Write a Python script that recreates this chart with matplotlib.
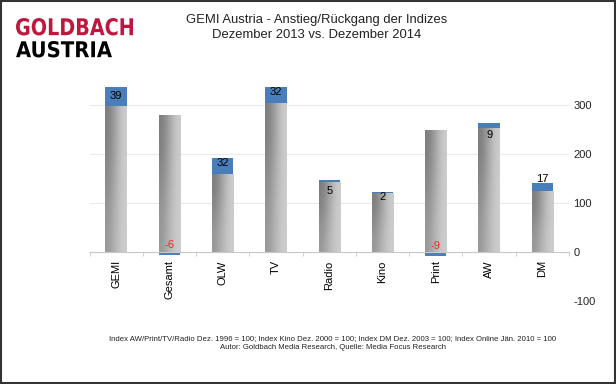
import numpy as np
import matplotlib
matplotlib.use("Agg")
import matplotlib.pyplot as plt
from matplotlib.patches import Rectangle, PathPatch
from matplotlib.colors import LinearSegmentedColormap
from matplotlib.textpath import TextPath
from matplotlib.font_manager import FontProperties
from matplotlib.transforms import Affine2D, IdentityTransform

plt.rcParams['font.family'] = ['Liberation Sans', 'DejaVu Sans']
plt.rcParams['axes.unicode_minus'] = False

# index Dez. 2013 (grey) and change to Dez. 2014 (blue)
categories = ["GEMI", "Gesamt", "OLW", "TV", "Radio", "Kino", "Print", "AW", "DM"]
base_values = [297, 280, 160, 305, 142, 120, 249, 254, 124]
changes = [39, -6, 32, 32, 5, 2, -9, 9, 17]
y_ticks = [-100, 0, 100, 200, 300]

# label offsets in points relative to the bar end
label_offsets = [-6.5, 5, -3.5, -3.8, -8, -3.6, 4.5, -8.6, 3]

W, H = 616, 384
fig = plt.figure(figsize=(W / 100, H / 100), dpi=100)
fig.patch.set_facecolor('white')
ax = fig.add_axes([0.1453, 0.2161, 0.7784, 0.5615])

x = np.arange(len(categories))
width = 0.4

grey_cmap = LinearSegmentedColormap.from_list("g", ["#7c7c7c", "#a6a6a6", "#cdcdcd"])
grad = np.array([[0.0, 0.5, 1.0], [0.35, 0.75, 1.0]])

bars = ax.bar(x, base_values, width, color='#9a9a9a', zorder=2)
for b in bars:
    x0, y0 = b.get_x(), b.get_y()
    im = ax.imshow(grad, extent=[x0, x0 + b.get_width(), y0, y0 + b.get_height()],
                   cmap=grey_cmap, aspect='auto', origin='upper', interpolation='bicubic', zorder=2.5)
    im.set_clip_path(b)

bottoms = [bv if c > 0 else 0 for bv, c in zip(base_values, changes)]
ax.bar(x, changes, width, bottom=bottoms, color='#4a7ebb', zorder=3)

for i, (bv, c) in enumerate(zip(base_values, changes)):
    top = bv + c if c > 0 else 0
    col = 'black' if c > 0 else '#ff2020'
    ax.annotate(str(c), (x[i], top), xytext=(0, label_offsets[i]), textcoords='offset points',
                ha='center', va='center', fontsize=8, color=col, zorder=5)

ax.set_xlim(-0.5, len(categories) - 0.5)
ax.set_ylim(-100, 340)
ax.set_yticks(y_ticks)
ax.yaxis.tick_right()
ax.tick_params(axis='y', length=0, pad=3, labelsize=8, labelcolor='#222222')
ax.grid(axis='y', color='#eaeaea', linewidth=0.8, zorder=0)

for s in ['top', 'left', 'right']:
    ax.spines[s].set_visible(False)
ax.spines['bottom'].set_position(('data', 0))
ax.spines['bottom'].set_color('#c8c8c8')
ax.spines['bottom'].set_zorder(4)
ax.set_xticks(x)
ax.set_xticklabels(categories, rotation=90, fontsize=8, va='top')
ax.set_xticks(np.arange(-0.5, len(categories), 1), minor=True)
ax.tick_params(axis='x', which='major', length=0, pad=6)
ax.tick_params(axis='x', which='minor', length=3, color='#c8c8c8')

# titles
fig.text(317 / W, 1 - 20.5 / H, "GEMI Austria - Anstieg/Rückgang der Indizes",
         ha='center', va='center', fontsize=9.4, color='#222222')
fig.text(317 / W, 1 - 35 / H, "Dezember 2013 vs. Dezember 2014",
         ha='center', va='center', fontsize=9.4, color='#222222')


# logo, fitted into a pixel box (left, top, right, bottom) measured from the top
def logo_word(word, box, color):
    tp = TextPath((0, 0), word, size=1, prop=FontProperties(family='DejaVu Sans', weight='bold'))
    bb = tp.get_extents()
    l, t, r, b = box
    tr = (Affine2D().translate(-bb.x0, -bb.y0)
          .scale((r - l) / bb.width, (b - t) / bb.height)
          .translate(l, H - b))
    fig.patches.append(PathPatch(tr.transform_path(tp), transform=IdentityTransform(),
                                 facecolor=color, edgecolor='none'))


logo_word("GOLDBACH", (16, 18, 133, 35.5), '#c0173f')
logo_word("AUSTRIA", (16, 41, 112, 57.5), 'black')

# footnote
fig.text(333 / W, 1 - 339 / H,
         "Index AW/Print/TV/Radio Dez. 1996 = 100; Index Kino Dez. 2000 = 100; "
         "Index DM Dez. 2003 = 100; Index Online Jän. 2010 = 100",
         ha='center', va='center', fontsize=5.6, color='#222222')
fig.text(333 / W, 1 - 347.5 / H, "Autor: Goldbach Media Research, Quelle: Media Focus Research",
         ha='center', va='center', fontsize=5.6, color='#222222')

# frame
fig.patches.append(Rectangle((0.001, 0.002), 0.997, 0.996, transform=fig.transFigure,
                             fill=False, edgecolor='#333333', linewidth=1.5))

fig.savefig("out.png", dpi=100)
